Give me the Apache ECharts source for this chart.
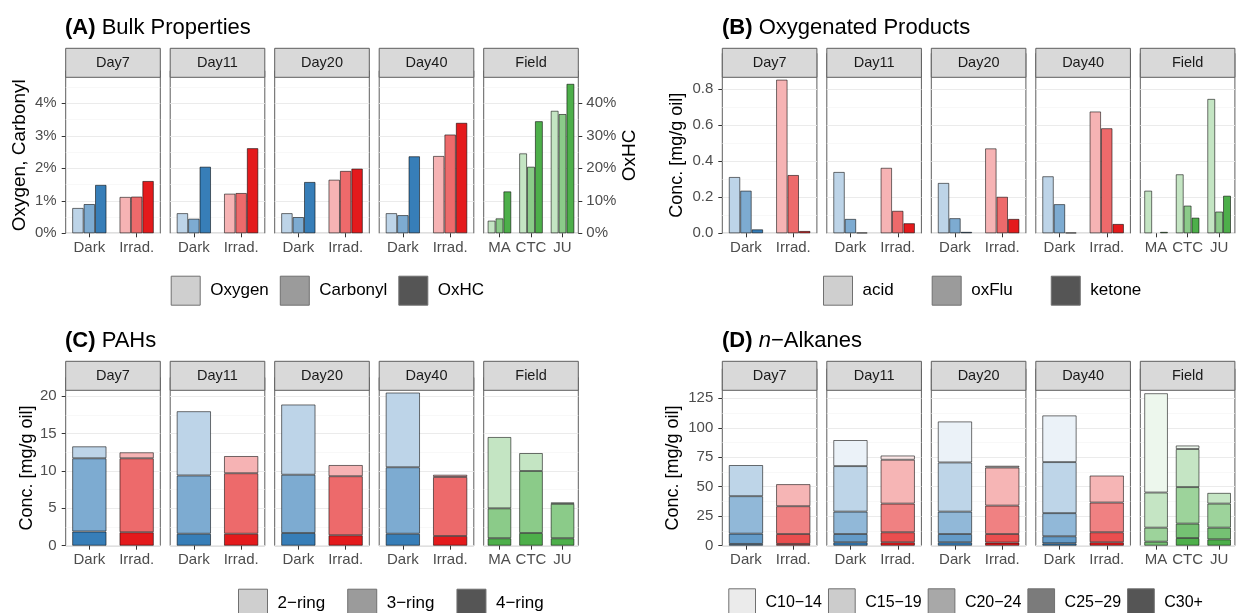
<!DOCTYPE html>
<html><head><meta charset="utf-8">
<script src="https://cdn.jsdelivr.net/npm/echarts@6/dist/echarts.min.js"></script>
<style>html,body{margin:0;padding:0;background:#fff}#c{width:1236px;height:613px}</style>
</head><body><div id="c"></div><script>
// ---------- DATA ----------
const facets = ['Day7','Day11','Day20','Day40','Field'];
const expCats = ['Dark','Irrad.'];
const fieldCats = ['MA','CTC','JU'];

// (A) Bulk properties (Oxygen, Carbonyl in %; OxHC in % on secondary axis)
const bulkVars = ['Oxygen','Carbonyl','OxHC'];
const oxygen   = [[0.78,1.12],[0.62,1.22],[0.62,1.65],[0.62,2.38],[0.39,2.46,3.77]];
const carbonyl = [[0.90,1.13],[0.45,1.24],[0.50,1.92],[0.56,3.04],[0.46,2.05,3.67]];
const oxhc     = [[14.9,16.1],[20.5,26.2],[15.8,19.9],[23.7,34.0],[12.9,34.5,46.0]];

// (B) Oxygenated products [mg/g oil]
const oxyVars = ['acid','oxFlu','ketone'];
const acid   = [[0.313,0.854],[0.341,0.364],[0.280,0.472],[0.317,0.677],[0.237,0.328,0.747]];
const oxFlu  = [[0.237,0.324],[0.080,0.125],[0.084,0.203],[0.162,0.584],[null,0.154,0.121]];
const ketone = [[0.022,0.013],[0.004,0.056],[0.008,0.080],[0.004,0.052],[0.008,0.087,0.209]];

// (C) PAHs [mg/g oil]
const pahVars = ['2\u2212ring','3\u2212ring','4\u2212ring'];
const ring2 = [[1.6,0.8],[8.6,2.3],[9.4,1.5],[10.0,0.3],[9.55,2.4,0.2]];
const ring3 = [[9.8,9.9],[7.8,8.1],[7.8,7.9],[8.9,7.9],[4.0,8.3,4.6]];
const ring4 = [[1.9,1.8],[1.6,1.6],[1.7,1.4],[1.6,1.3],[1.0,1.7,1.0]];

// (D) n-Alkanes [mg/g oil]
const alkVars = ['C10\u221214','C15\u221219','C20\u221224','C25\u221229','C30+'];
const c10_14 = [[null,null],[22.1,3.6],[34.8,1.5],[39.6,null],[84.2,3.0,null]];
const c15_19 = [[26.4,18.7],[38.6,37.2],[41.7,32.3],[43.3,22.9],[29.8,32.3,9.1]];
const c20_24 = [[31.8,23.6],[19.0,24.3],[19.0,24.1],[19.6,25.2],[11.9,31.0,20.4]];
const c25_29 = [[8.7,8.4],[7.0,8.5],[7.0,7.3],[6.0,8.5],[3.4,12.2,9.9]];
const c30p   = [[1.5,1.5],[2.9,2.9],[2.9,2.6],[2.0,2.9],[null,6.5,5.4]];

// tick labels
const ticksA  = [0,1,2,3,4];
const ticksA2 = [0,10,20,30,40];
const ticksB  = [0,0.2,0.4,0.6,0.8];
const ticksC  = [0,5,10,15,20];
const ticksD  = [0,25,50,75,100,125];

// ---------- STYLE / LAYOUT ----------
const FONT = '"Liberation Sans", Arial, Helvetica, sans-serif';
const BLUE=[55,126,184], RED=[228,26,28], GREEN=[77,175,74];
function blend(c,a){return 'rgb('+c.map(v=>Math.round(255-(255-v)*a)).join(',')+')';}
function baseColor(f,ci){ if(f===4) return GREEN; return ci===0?BLUE:RED; }

const colLeft = {L:[65.7,170.2,274.7,379.2,483.7], R:[722.3,826.8,931.3,1035.8,1140.3]};
const panelW = 94.6;
const rows = {
  top:{stripTop:48.3, panelTop:77.3, panelBottom:233.3},
  bot:{stripTop:361.3, panelTop:390.3, panelBottom:545.7}
};

const panels = [
 {side:'L', row:'top', vars:bulkVars, data:[oxygen,carbonyl,oxhc], alphas:[0.33,0.65,1], stacked:false,
  visMax:4.8, axMax:5, interval:1, ticks:ticksA, fmt:v=>v+'%',
  sec:{varIdx:2, axMax:50, interval:10, ticks:ticksA2, fmt:v=>v+'%'}},
 {side:'R', row:'top', vars:oxyVars, data:[acid,oxFlu,ketone], alphas:[0.33,0.65,1], stacked:false,
  visMax:0.867, axMax:1.0, interval:0.2, ticks:ticksB, fmt:v=>Number(v).toFixed(1)},
 {side:'L', row:'bot', vars:pahVars, data:[ring2,ring3,ring4], alphas:[0.33,0.65,1], stacked:true,
  visMax:20.8, axMax:22.5, interval:5, ticks:ticksC, fmt:v=>String(v)},
 {side:'R', row:'bot', vars:alkVars, data:[c10_14,c15_19,c20_24,c25_29,c30p], alphas:[0.1,0.325,0.55,0.775,1], stacked:true,
  visMax:131.8, axMax:150, interval:25, ticks:ticksD, fmt:v=>String(v)}
];

const grids=[], xAxes=[], yAxes=[], series=[], graphics=[];
const border = '#5e5e5e';

panels.forEach((p,pi)=>{
  const r = rows[p.row];
  const ph = r.panelBottom - r.panelTop;
  const gTop = r.panelBottom - ph * p.axMax / p.visMax;
  facets.forEach((fname,f)=>{
    const left = colLeft[p.side][f];
    const gi = grids.length;
    grids.push({left:left, top:gTop, width:panelW, height:r.panelBottom-gTop, show:true,
      backgroundColor:'#fff', borderColor:border, borderWidth:1});
    const cats = f===4 ? fieldCats : expCats;
    xAxes.push({type:'category', gridIndex:gi, data:cats, axisLine:{show:false},
      axisTick:{show:true, alignWithLabel:true, interval:0, length:4, lineStyle:{color:'#333'}},
      axisLabel:{fontSize:15, color:'#4d4d4d', margin:7, fontFamily:FONT, interval:0, hideOverlap:false},
      splitLine:{show:false}});
    const y1 = yAxes.length;
    yAxes.push({type:'value', gridIndex:gi, min:0, max:p.axMax, interval:p.interval,
      axisLine:{show:false},
      axisTick:{show:f===0, length:4, lineStyle:{color:'#333'}, customValues:p.ticks},
      axisLabel:{show:f===0, customValues:p.ticks, formatter:p.fmt, fontSize:15, color:'#4d4d4d', margin:9, fontFamily:FONT},
      splitLine:{show:true, lineStyle:{color:'#EBEBEB', width:1.1}},
      minorTick:{show:false, splitNumber:2},
      minorSplitLine:{show:true, lineStyle:{color:'#F5F5F5', width:0.7}}});
    let y2 = null;
    if(p.sec){
      y2 = yAxes.length;
      yAxes.push({type:'value', gridIndex:gi, position:'right', min:0, max:p.sec.axMax, interval:p.sec.interval,
        axisLine:{show:false},
        axisTick:{show:f===4, length:4, lineStyle:{color:'#333'}, customValues:p.sec.ticks},
        axisLabel:{show:f===4, customValues:p.sec.ticks, formatter:p.sec.fmt, fontSize:15, color:'#4d4d4d', margin:8, fontFamily:FONT},
        splitLine:{show:false}});
    }
    const order = p.vars.map((_,i)=>i);
    if(p.stacked) order.reverse();
    order.forEach(vi=>{
      const vals = p.data[vi][f];
      series.push({type:'bar', name:p.vars[vi], xAxisIndex:gi, yAxisIndex:(p.sec && vi===p.sec.varIdx)?y2:y1,
        stack: p.stacked ? ('s'+gi) : undefined,
        barGap:'0%', barCategoryGap: f===4 ? '25%' : '27.5%',
        itemStyle:{borderColor:'rgba(0,0,0,0.62)', borderWidth:0.9},
        emphasis:{disabled:true},
        data: vals.map((v,ci)=> v===null ? '-' : ({value:v, itemStyle:{color:blend(baseColor(f,ci), p.alphas[vi])}}))
      });
    });
    // strip
    graphics.push({type:'rect', z:100, shape:{x:left, y:r.stripTop, width:panelW, height:r.panelTop-r.stripTop},
      style:{fill:'#D9D9D9', stroke:border, lineWidth:1}});
    graphics.push({type:'text', z:101, x:left+panelW/2, y:(r.stripTop+r.panelTop)/2,
      style:{text:fname, fill:'#1a1a1a', font:'14.5px '+FONT, align:'center', verticalAlign:'middle', textAlign:'center', textVerticalAlign:'middle'}});
  });
});

// axis titles
function vtitle(txt,x,y,size){
  graphics.push({type:'text', z:101, x:x, y:y, rotation:Math.PI/2,
    style:{text:txt, fill:'#000', font:size+'px '+FONT, align:'center', verticalAlign:'middle', textAlign:'center', textVerticalAlign:'middle'}});
}
vtitle('Oxygen, Carbonyl', 20, 155.3, 19);
vtitle('OxHC', 630, 155.3, 19);
vtitle('Conc. [mg/g oil]', 676.7, 155.3, 18);
vtitle('Conc. [mg/g oil]', 27, 468, 18);
vtitle('Conc. [mg/g oil]', 673, 468, 18);

function mkTitle(txt,left,top){
  return {text:txt, left:left, top:top, padding:0,
    textStyle:{fontSize:22, fontWeight:'normal', color:'#000', fontFamily:FONT,
      rich:{b:{fontSize:22, fontWeight:'bold', color:'#000', fontFamily:FONT},
            i:{fontSize:22, fontStyle:'italic', color:'#000', fontFamily:FONT}}}};
}
const titles = [
  mkTitle('{b|(A)} Bulk Properties', 65, 17),
  mkTitle('{b|(B)} Oxygenated Products', 722, 17),
  mkTitle('{b|(C)} PAHs', 65, 330),
  mkTitle('{b|(D)} {i|n}\u2212Alkanes', 722, 330)
];

const grey3 = ['#CFCFCF','#9B9B9B','#555555'];
const grey5 = ['#EBEBEB','#CCCCCC','#A8A8A8','#7B7B7B','#555555'];
function mkLegend(names, greys, left, top, size, gap, fs){
  return {data:names.map((n,i)=>({name:n, itemStyle:{color:greys[i], borderColor:'#707070', borderWidth:1}})),
    left:left, top:top, orient:'horizontal', icon:'rect', itemWidth:size, itemHeight:size, itemGap:gap,
    padding:0, selectedMode:false,
    textStyle:{fontSize:fs, color:'#000', fontFamily:FONT, padding:[0,0,0,5]}};
}
const legends = [
  mkLegend(bulkVars, grey3, 170.7, 275.7, 29, 11, 17),
  mkLegend(oxyVars, grey3, 823, 275.7, 29, 38, 17),
  mkLegend(pahVars, grey3, 238, 588.7, 29, 22, 17),
  mkLegend(alkVars, grey5, 728.3, 588.3, 26.7, 6, 16)
];

const chart = echarts.init(document.getElementById('c'), null, {renderer:'canvas'});
chart.setOption({
  animation:false, backgroundColor:'#fff',
  title:titles, legend:legends, grid:grids, xAxis:xAxes, yAxis:yAxes, series:series, graphic:graphics
});
</script></body></html>
